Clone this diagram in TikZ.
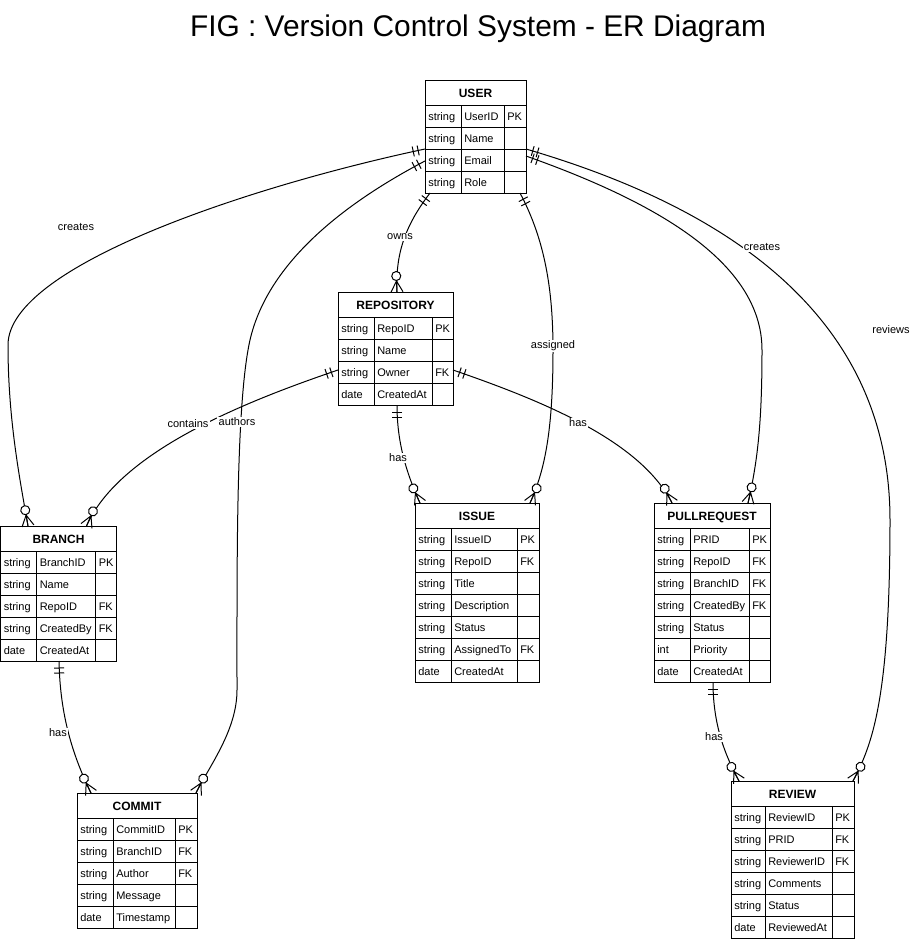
\documentclass[tikz,border=0pt]{standalone}
\usepackage{fontspec}
\setmainfont{Liberation Sans}
\usetikzlibrary{calc,decorations.markings}

\tikzset{
  x=0.75pt, y=-0.75pt,
  conn/.style={line width=0.75pt, draw=black},
  onebars/.style={postaction={decorate,decoration={markings,mark=at position 0 with {\draw[line width=0.75pt] (7,-5)--(7,5) (12,-5)--(12,5);}}}},
  zeromany/.style={postaction={decorate,decoration={markings,mark=at position 0.9999 with {\draw[line width=0.75pt] (-11,0)--(0,6) (-11,0)--(0,-6) (-11,0)--(0,0); \draw[line width=0.75pt,fill=white] (-16,0) circle (3.4pt);}}}},
  lbl/.style={fill=white, inner sep=1pt, font=\fontsize{8.25}{10}\selectfont},
  cell/.style={anchor=base west, inner sep=0pt, font=\fontsize{8.25}{10}\selectfont},
  hdr/.style={anchor=base, inner sep=0pt, font=\bfseries\fontsize{9}{11}\selectfont},
  entbox/.style={draw, line width=0.75pt, fill=white, anchor=north west, inner sep=0pt, outer sep=0pt},
  grid/.style={line width=0.75pt},
}

\newcommand{\erentity}[9]{%
  \pgfmathsetmacro{\ertw}{#4+#5+#6}%
  \pgfmathsetmacro{\erth}{25+22*#8}%
  \node[entbox, minimum width=\ertw*0.75pt, minimum height=\erth*0.75pt] (#1) at (#2,#3) {};
  \node[hdr] (#1-title) at ($(#1.north west)+(\ertw/2,17)$) {#7};
  \draw[grid] ($(#1.north west)+(0,25)$) -- ($(#1.north east)+(0,25)$);
  \draw[grid] ($(#1.north west)+(#4,25)$) -- ($(#1.south west)+(#4,0)$);
  \draw[grid] ($(#1.north west)+(#4+#5,25)$) -- ($(#1.south west)+(#4+#5,0)$);
  \foreach \ty/\fn/\ky [count=\i] in {#9} {
    \pgfmathsetmacro{\errt}{25+22*(\i-1)}
    \ifnum\i>1 \draw[grid] ($(#1.north west)+(0,\errt)$) -- ($(#1.north east)+(0,\errt)$); \fi
    \node[cell] (#1-a\i) at ($(#1.north west)+(3,\errt+15.5)$) {\ty};
    \node[cell] (#1-b\i) at ($(#1.north west)+(#4+3,\errt+15.5)$) {\fn};
    \node[cell] (#1-c\i) at ($(#1.north west)+(#4+#5+3,\errt+15.5)$) {\ky};
  }
}

\begin{document}
\begin{tikzpicture}
\useasboundingbox[fill=white] (0,0) rectangle (914,939);

\node[font=\fontsize{22.4}{26}\selectfont, anchor=base, inner sep=0pt] (title) at (478,36) {FIG : Version Control System - ER Diagram};

\erentity{user}{425}{80}{36}{43}{22}{USER}{4}{string/UserID/PK, string/Name/{}, string/Email/{}, string/Role/{}}
\erentity{repo}{338}{292}{36}{58}{21}{REPOSITORY}{4}{string/RepoID/PK, string/Name/{}, string/Owner/FK, date/CreatedAt/{}}
\erentity{branch}{0.5}{526}{36}{59}{21}{BRANCH}{5}{string/BranchID/PK, string/Name/{}, string/RepoID/FK, string/CreatedBy/FK, date/CreatedAt/{}}
\erentity{issue}{415}{503}{36}{66}{22}{ISSUE}{7}{string/IssueID/PK, string/RepoID/FK, string/Title/{}, string/Description/{}, string/Status/{}, string/AssignedTo/FK, date/CreatedAt/{}}
\erentity{pr}{654}{503}{36}{59}{21}{PULLREQUEST}{7}{string/PRID/PK, string/RepoID/FK, string/BranchID/FK, string/CreatedBy/FK, string/Status/{}, int/Priority/{}, date/CreatedAt/{}}
\erentity{commit}{77}{793}{36}{62}{22}{COMMIT}{5}{string/CommitID/PK, string/BranchID/FK, string/Author/FK, string/Message/{}, date/Timestamp/{}}
\erentity{review}{731}{781}{34}{67}{22}{REVIEW}{6}{string/ReviewID/PK, string/PRID/FK, string/ReviewerID/FK, string/Comments/{}, string/Status/{}, date/ReviewedAt/{}}

% connectors
\draw[conn,onebars,zeromany] ($(user.north west)+(0,69)$) .. controls (255,185) and (8,265) .. (8,345) .. controls (8,420) and (20,480) .. ($(branch.north west)+(27.5,0)$);
\draw[conn,onebars,zeromany] ($(user.north west)+(0,81)$) .. controls (345,203) and (268,262) .. (250,340) .. controls (236,402) and (237,560) .. (237,690) .. controls (237,730) and (210,765) .. ($(commit.north east)+(-1,0)$);
\draw[conn,onebars,zeromany] ($(user.south west)+(5,0)$) .. controls (408,222) and (395,250) .. ($(repo.north west)+(59,0)$);
\draw[conn,onebars,zeromany] ($(repo.north west)+(0,78)$) .. controls (250,400) and (120,450) .. ($(branch.north west)+(86,0)$);
\draw[conn,onebars,zeromany] ($(repo.south west)+(59,0)$) .. controls (397,440) and (405,470) .. ($(issue.north west)+(5,0)$);
\draw[conn,onebars,zeromany] ($(repo.north east)+(0,78)$) .. controls (540,400) and (640,440) .. ($(pr.north west)+(18,0)$);
\draw[conn,onebars,zeromany] ($(user.south east)+(-6,0)$) .. controls (545,240) and (553,290) .. (553,350) .. controls (553,430) and (545,470) .. ($(issue.north east)+(-9,0)$);
\draw[conn,onebars,zeromany] ($(user.north east)+(0,76)$) .. controls (650,200) and (762,260) .. (762,350) .. controls (762,420) and (758,460) .. ($(pr.north east)+(-22,0)$);
\draw[conn,onebars,zeromany] ($(user.north east)+(0,69)$) .. controls (700,200) and (890,300) .. (890,520) .. controls (890,700) and (872,745) .. ($(review.north east)+(-1,0)$);
\draw[conn,onebars,zeromany] ($(branch.south west)+(58.5,0)$) .. controls (60,710) and (70,750) .. ($(commit.north west)+(14,0)$);
\draw[conn,onebars,zeromany] ($(pr.south west)+(59,0)$) .. controls (713,725) and (725,755) .. ($(review.north west)+(8,0)$);

% labels
\node[lbl] (l-creates1) at (76,227) {creates};
\node[lbl] (l-owns) at (400,237) {owns};
\node[lbl] (l-contains) at (188,424) {contains};
\node[lbl] (l-authors) at (237,422) {authors};
\node[lbl] (l-has1) at (398,458) {has};
\node[lbl] (l-assigned) at (553,346) {assigned};
\node[lbl] (l-has2) at (578,423) {has};
\node[lbl] (l-creates2) at (762,247) {creates};
\node[lbl] (l-reviews) at (891,330) {reviews};
\node[lbl] (l-has3) at (58,733) {has};
\node[lbl] (l-has4) at (714,737) {has};
\end{tikzpicture}
\end{document}
